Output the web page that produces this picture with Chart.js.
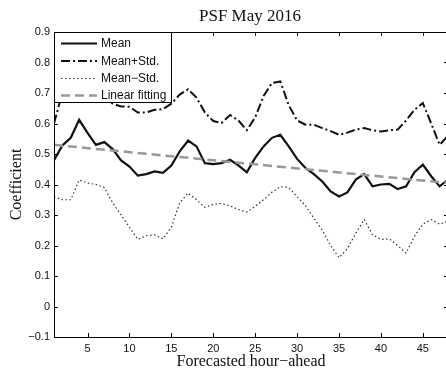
<!DOCTYPE html>
<html>
<head>
<meta charset="utf-8">
<script src="https://cdn.jsdelivr.net/npm/chart.js@4"></script>
<style>
  html, body { margin: 0; padding: 0; background: #fff; overflow: hidden; }
  #wrap { width: 450px; height: 373px; }
</style>
</head>
<body>
<div id="wrap"><canvas id="psf-chart" width="450" height="373"></canvas></div>
<script>
// data
const hours = [1, 2, 3, 4, 5, 6, 7, 8, 9, 10, 11, 12, 13, 14, 15, 16, 17, 18, 19, 20, 21, 22, 23, 24,
               25, 26, 27, 28, 29, 30, 31, 32, 33, 34, 35, 36, 37, 38, 39, 40, 41, 42, 43, 44, 45, 46, 47, 48];
const meanValues = [0.48, 0.528, 0.553, 0.612, 0.569, 0.53, 0.539, 0.516, 0.479, 0.459, 0.429, 0.434,
                    0.443, 0.438, 0.462, 0.509, 0.544, 0.525, 0.47, 0.467, 0.47, 0.481, 0.463, 0.44,
                    0.487, 0.525, 0.553, 0.563, 0.525, 0.484, 0.454, 0.434, 0.41, 0.377, 0.361, 0.374,
                    0.416, 0.434, 0.394, 0.4, 0.402, 0.385, 0.394, 0.44, 0.465, 0.427, 0.394, 0.416];
const upperValues = [0.6, 0.7, 0.71, 0.75, 0.72, 0.69, 0.68, 0.665, 0.656, 0.655, 0.636, 0.636,
                     0.645, 0.647, 0.665, 0.695, 0.712, 0.685, 0.636, 0.608, 0.602, 0.628, 0.61, 0.578,
                     0.62, 0.69, 0.733, 0.738, 0.66, 0.61, 0.596, 0.596, 0.585, 0.575, 0.563, 0.57,
                     0.58, 0.585, 0.578, 0.574, 0.578, 0.58, 0.61, 0.645, 0.667, 0.6, 0.53, 0.56];
const lowerValues = [0.36, 0.35, 0.35, 0.415, 0.405, 0.4, 0.39, 0.34, 0.3, 0.26, 0.22, 0.232,
                     0.235, 0.222, 0.26, 0.34, 0.372, 0.35, 0.325, 0.335, 0.338, 0.33, 0.318, 0.31,
                     0.328, 0.35, 0.375, 0.393, 0.39, 0.36, 0.33, 0.29, 0.25, 0.2, 0.16, 0.19,
                     0.24, 0.285, 0.235, 0.22, 0.222, 0.2, 0.175, 0.23, 0.27, 0.285, 0.27, 0.28];
const fitHours = [1, 48];
const fitValues = [0.53, 0.405];
const xTicks = [5, 10, 15, 20, 25, 30, 35, 40, 45];
const yTicks = [-0.1, 0, 0.1, 0.2, 0.3, 0.4, 0.5, 0.6, 0.7, 0.8, 0.9];
const seriesNames = ['Mean', 'Mean+Std.', 'Mean\u2212Std.', 'Linear fitting'];

function toPoints(xs, ys) {
    return xs.map((x, i) => ({ x: x, y: ys[i] }));
}

const boxAndTicks = {
    id: 'boxAndTicks',
    afterDatasetsDraw(chart) {
        const { ctx, chartArea: a, scales: { x, y } } = chart;
        ctx.save();
        ctx.strokeStyle = '#000';
        ctx.lineWidth = 1;
        ctx.beginPath();
        xTicks.forEach(v => {
            const px = Math.round(x.getPixelForValue(v)) + 0.5;
            ctx.moveTo(px, a.bottom); ctx.lineTo(px, a.bottom - 4);
            ctx.moveTo(px, a.top); ctx.lineTo(px, a.top + 4);
        });
        yTicks.forEach(v => {
            const py = Math.round(y.getPixelForValue(v)) + 0.5;
            ctx.moveTo(a.left, py); ctx.lineTo(a.left + 4, py);
            ctx.moveTo(a.right, py); ctx.lineTo(a.right - 4, py);
        });
        ctx.stroke();
        ctx.strokeRect(a.left + 0.5, a.top + 0.5, a.right - a.left, a.bottom - a.top);

        // title centred over the axes
        ctx.fillStyle = '#111';
        ctx.font = '17px "Liberation Serif"';
        ctx.textAlign = 'center';
        ctx.textBaseline = 'middle';
        ctx.fillText('PSF May 2016', (a.left + 446) / 2, 17);

        // legend box in the upper left corner
        const bx = a.left + 0.5, by = a.top + 0.5, bw = 117, bh = 70;
        ctx.fillStyle = '#fff';
        ctx.fillRect(bx, by, bw, bh);
        ctx.strokeRect(bx, by, bw, bh);
        const rows = [43.5, 61, 78.5, 95.5];
        ctx.font = '12px "Liberation Sans"';
        ctx.textAlign = 'left';
        chart.data.datasets.forEach((ds, i) => {
            ctx.save();
            ctx.strokeStyle = ds.borderColor;
            ctx.lineWidth = ds.borderWidth;
            ctx.setLineDash(ds.borderDash || []);
            ctx.beginPath();
            ctx.moveTo(a.left + 7, rows[i]);
            ctx.lineTo(a.left + 43, rows[i]);
            ctx.stroke();
            ctx.restore();
            ctx.fillStyle = '#111';
            ctx.fillText(ds.label, a.left + 47, rows[i] + 0.5);
        });
        ctx.restore();
    }
};

const ctx = document.getElementById('psf-chart').getContext('2d');
new Chart(ctx, {
    type: 'line',
    data: {
        datasets: [{
            label: seriesNames[0],
            data: toPoints(hours, meanValues),
            borderColor: '#111',
            borderWidth: 2.2,
            order: 1
        }, {
            label: seriesNames[1],
            data: toPoints(hours, upperValues),
            borderColor: '#111',
            borderWidth: 2,
            borderDash: [9, 3, 2, 3],
            order: 2
        }, {
            label: seriesNames[2],
            data: toPoints(hours, lowerValues),
            borderColor: '#333',
            borderWidth: 1.2,
            borderDash: [1.5, 2.5],
            order: 3
        }, {
            label: seriesNames[3],
            data: toPoints(fitHours, fitValues),
            borderColor: '#999',
            borderWidth: 2.5,
            borderDash: [9, 5],
            order: 0
        }]
    },
    options: {
        responsive: false,
        animation: false,
        devicePixelRatio: 1,
        layout: { padding: { top: 32, right: 2, left: 0, bottom: 0 } },
        elements: { point: { radius: 0 }, line: { tension: 0 } },
        plugins: { legend: { display: false }, title: { display: false }, tooltip: { enabled: false } },
        scales: {
            x: {
                type: 'linear',
                min: 1,
                max: 48,
                grid: { display: false, drawTicks: false },
                border: { display: false },
                afterBuildTicks: scale => { scale.ticks = xTicks.map(v => ({ value: v })); },
                afterFit: scale => { scale.height = 36; },
                ticks: {
                    color: '#111',
                    padding: 5,
                    maxRotation: 0,
                    font: { family: 'Liberation Sans', size: 11 }
                },
                title: {
                    display: true,
                    text: 'Forecasted hour\u2212ahead',
                    color: '#111',
                    padding: { top: 0, bottom: 2 },
                    font: { family: 'Liberation Serif', size: 16 }
                }
            },
            y: {
                min: -0.1,
                max: 0.9,
                grid: { display: false, drawTicks: false },
                border: { display: false },
                afterBuildTicks: scale => { scale.ticks = yTicks.map(v => ({ value: v })); },
                afterFit: scale => { scale.width = 54; },
                ticks: {
                    color: '#111',
                    padding: 4,
                    font: { family: 'Liberation Sans', size: 11 },
                    callback: v => {
                        const s = String(Math.round(v * 10) / 10);
                        return s.replace('-', '\u2212');
                    }
                },
                title: {
                    display: true,
                    text: 'Coefficient',
                    color: '#111',
                    padding: { top: 7, bottom: 0 },
                    font: { family: 'Liberation Serif', size: 16 }
                }
            }
        }
    },
    plugins: [boxAndTicks]
});
</script>
</body>
</html>
